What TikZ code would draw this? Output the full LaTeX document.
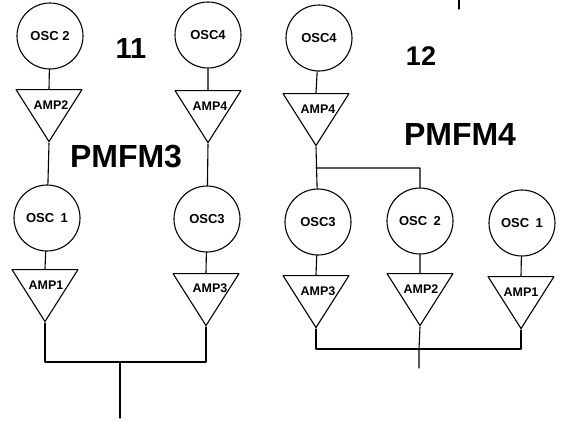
\documentclass[tikz,border=0pt]{standalone}
\usepackage{fontspec}
\setmainfont{Liberation Sans}
\usetikzlibrary{shapes.geometric}
\tikzset{
	osc/.style={draw, circle, minimum size=66pt, inner sep=0pt, font=\bfseries\fontsize{13}{13}\selectfont},
	amp/.style={draw, isosceles triangle, isosceles triangle stretches, shape border rotate=-90, minimum width=66pt, minimum height=52pt, inner sep=0pt, anchor=apex},
	amptext/.style={font=\bfseries\fontsize{12.5}{12.5}\selectfont},
	bigtext/.style={font=\bfseries\fontsize{32}{32}\selectfont}
}
\begin{document}
\begin{tikzpicture}[x=1pt, y=-1pt, line width=1.1pt, line join=round, line cap=round]
	\useasboundingbox (0,0) rectangle (562,421);
	% PMFM3
	\node[osc] (lo2) at (50,36) {OSC 2};
	\node[amp] (la2) at (49,143) {};
	\node[amptext] (lt2) at (51,105) {AMP2};
	\node[osc] (lo1) at (47,218) {OSC\enspace1};
	\node[amp] (la1) at (45,323) {};
	\node[amptext] (lt1) at (46,285) {AMP1};
	\node[osc] (lo4) at (208,35) {OSC4};
	\node[amp] (la4) at (208,144) {};
	\node[amptext] (lt4) at (210,106) {AMP4};
	\node[osc] (lo3) at (207,219) {OSC3};
	\node[amp] (la3) at (206,327) {};
	\node[amptext] (lt3) at (210,288) {AMP3};
	\node[bigtext, font=\bfseries\fontsize{29}{29}\selectfont] (n11) at (131,49) {11};
	\node[bigtext] (pm3) at (126,157) {PMFM3};
	\coordinate (lbus) at (120,362);
	\coordinate (lout) at (120,418);
	\draw (lo2) -- (la2.north)
		(la2.south) -- (lo1)
		(lo1) -- (la1.north)
		(lo4) -- (la4.north)
		(la4.south) -- (lo3)
		(lo3) -- (la3.north);
	\draw (la1.south) |- (lbus) -| (la3.south);
	\draw (lbus) -- (lout);
	% PMFM4
	\node[osc] (ro4) at (319,38) {OSC4};
	\node[amp] (ra4) at (316,147) {};
	\node[amptext] (rt4) at (318,109) {AMP4};
	\node[osc] (ro3) at (318,222) {OSC3};
	\node[amp] (ra3) at (316,329) {};
	\node[amptext] (rt3) at (318,291) {AMP3};
	\node[osc] (ro2) at (420,221) {OSC\enspace2};
	\node[amp] (ra2) at (420,327) {};
	\node[amptext] (rt2) at (421,289) {AMP2};
	\node[osc] (ro1) at (522,223) {OSC\enspace1};
	\node[amp] (ra1) at (521,330) {};
	\node[amptext] (rt1) at (521,292) {AMP1};
	\node[bigtext, font=\bfseries\fontsize{27}{27}\selectfont] (n12) at (421,56) {12};
	\node[bigtext] (pm4) at (460,134) {PMFM4};
	\coordinate (rj) at (316,168);
	\coordinate (rbus) at (419,349);
	\coordinate (rout) at (419,368);
	\draw (ro4) -- (ra4.north)
		(ra4.south) -- (ro3)
		(rj) -| (ro2)
		(ro3) -- (ra3.north)
		(ro2) -- (ra2.north)
		(ro1) -- (ra1.north);
	\draw (ra3.south) |- (rbus) -| (ra1.south);
	\draw (ra2.south) -- (rbus) -- (rout);
	\draw (459,0) -- (459,9);
\end{tikzpicture}
\end{document}
